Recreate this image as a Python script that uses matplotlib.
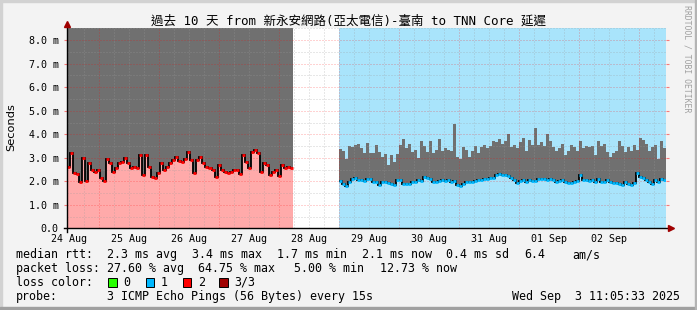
import numpy as np
import matplotlib
matplotlib.use("Agg")
import matplotlib.pyplot as plt
from matplotlib.patches import Rectangle

# x axis is in days, day 0 = "24 Aug" label position
day_labels = ["24 Aug", "25 Aug", "26 Aug", "27 Aug", "28 Aug",
              "29 Aug", "30 Aug", "31 Aug", "01 Sep", "02 Sep"]
y_ticks = [0, 1, 2, 3, 4, 5, 6, 7, 8]
y_labels = ["0.0", "1.0 m", "2.0 m", "3.0 m", "4.0 m", "5.0 m", "6.0 m", "7.0 m", "8.0 m"]

T_START, GAP_START, GAP_END, T_END = -0.028, 3.735, 4.505, 9.955
Y_MAX = 8.52

# first period (loss 2/3): median rtt in ms
left_median = [2.62, 3.20, 2.34, 2.30, 1.98, 2.98, 2.03, 2.79, 2.48, 2.41,
               2.48, 2.13, 2.00, 2.94, 2.79, 2.41, 2.55, 2.77, 2.83, 2.98,
               2.77, 2.58, 2.60, 2.55, 3.12, 2.27, 3.10, 2.60, 2.20, 2.13,
               2.34, 2.77, 2.48, 2.62, 2.77, 2.91, 3.05, 2.88, 2.83, 2.94,
               3.26, 2.91, 2.34, 2.91, 3.05, 2.77, 2.62, 2.55, 2.48, 2.20,
               2.69, 2.48, 2.38, 2.34, 2.41, 2.48, 2.48, 2.30, 3.12, 2.83,
               2.55, 3.26, 3.33, 3.19, 2.41, 2.79, 2.69, 2.27, 2.41, 2.48,
               2.23, 2.69, 2.55, 2.62, 2.55]

# second period (loss 1/3): median and top of smoke in ms
right_median = [2.02, 1.90, 1.82, 1.96, 2.08, 2.12, 2.04, 2.05, 2.02, 2.08,
                2.10, 1.98, 1.96, 1.86, 1.98, 1.96, 1.92, 1.90, 1.84, 2.04,
                2.06, 1.90, 1.88, 1.90, 1.96, 1.98, 2.06, 2.02, 2.20, 2.12,
                2.10, 1.98, 1.96, 2.02, 2.04, 2.00, 2.04, 1.98, 2.00, 1.84,
                1.80, 1.90, 1.96, 1.98, 1.96, 2.00, 2.04, 2.06, 2.10, 2.08,
                2.12, 2.12, 2.26, 2.30, 2.26, 2.28, 2.22, 2.14, 2.04, 1.92,
                2.02, 2.04, 1.96, 2.06, 2.00, 2.02, 2.10, 2.08, 2.08, 2.06,
                2.08, 2.04, 1.98, 2.02, 2.06, 1.98, 1.94, 1.92, 1.98, 2.00,
                2.26, 2.06, 2.04, 2.00, 2.04, 1.96, 2.08, 1.98, 1.96, 2.06,
                1.98, 1.92, 1.94, 1.90, 1.86, 1.96, 1.88, 1.84, 1.94, 2.34,
                2.20, 2.16, 2.04, 1.96, 1.90, 2.06, 1.98, 2.08, 2.04]
right_top = [3.36, 3.30, 2.95, 3.50, 3.47, 3.55, 3.60, 3.40, 3.19, 3.62,
             3.20, 3.20, 3.55, 3.25, 3.05, 3.15, 2.70, 3.10, 2.80, 3.15,
             3.55, 3.80, 3.40, 3.60, 3.25, 3.35, 3.00, 3.70, 3.50, 3.25,
             3.70, 3.20, 3.35, 3.80, 3.30, 3.40, 3.35, 3.30, 4.45, 3.05,
             2.95, 3.45, 3.35, 3.05, 3.30, 3.50, 3.20, 3.45, 3.55, 3.40,
             3.50, 3.70, 3.65, 3.80, 3.60, 3.70, 4.00, 3.45, 3.55, 3.40,
             3.65, 3.85, 3.30, 3.75, 3.55, 4.25, 3.55, 3.65, 3.50, 4.00,
             3.70, 3.45, 3.30, 3.40, 3.60, 3.10, 3.30, 3.55, 3.45, 3.30,
             3.70, 3.40, 3.50, 3.45, 3.50, 3.10, 3.70, 3.50, 3.60, 3.25,
             3.05, 3.20, 3.30, 3.70, 3.50, 3.25, 3.45, 3.30, 3.55, 3.35,
             3.85, 3.75, 3.60, 3.30, 3.45, 3.55, 2.95, 3.70, 3.40]

loss_colors = ["#26ff00", "#00b8ff", "#ff0000", "#a00000"]
loss_names = ["0", "1", "2", "3/3"]

W, H = 697, 310
BG = "#f3f3f3"
SMOKE = "#707070"
PINK = "#ffaaaa"
LBLUE = "#a9e4fb"
MONO = "DejaVu Sans Mono"


def fx(px):
    return px / W


def fy(py):
    return 1 - py / H


fig = plt.figure(figsize=(W / 100, H / 100), dpi=100, facecolor=BG)
ax = fig.add_axes([fx(67), fy(228.3), (666 - 67) / W, (228.3 - 28) / H])
ax.set_facecolor("white")
ax.set_xlim(T_START, T_END)
ax.set_ylim(0, Y_MAX)
for s in ax.spines.values():
    s.set_visible(False)

# first period: pink below the median, smoke above
left_edges = np.linspace(T_START, GAP_START, len(left_median) + 1)
ax.axvspan(T_START, GAP_START, color=SMOKE, lw=0, zorder=0.5)
ax.stairs(left_median, left_edges, baseline=0, fill=True, color=PINK, lw=0, zorder=0.6)

# second period: light blue background, smoke between median and top
right_edges = np.linspace(GAP_END, T_END, len(right_median) + 1)
ax.axvspan(GAP_END, T_END, color=LBLUE, lw=0, zorder=0.5)
ax.stairs(right_top, right_edges, baseline=right_median, fill=True, color=SMOKE,
          lw=0, zorder=0.6)

# grid on top of the areas
minor_c = (0.61, 0.61, 0.61, 0.48)
major_c = (1.0, 0.0, 0.0, 0.35)
dots = (0, (1, 2))
for y in np.arange(0.5, Y_MAX, 1.0):
    ax.axhline(y, color=minor_c, lw=0.72, ls=dots, zorder=2)
for y in y_ticks[1:]:
    ax.axhline(y, color=major_c, lw=0.72, ls=dots, zorder=2)
for d in np.arange(0.25, T_END, 0.25):
    if abs((d - 0.5) % 1.0) > 1e-6:
        ax.axvline(d, color=minor_c, lw=0.72, ls=dots, zorder=2)
for d in np.arange(0.5, T_END, 1.0):
    ax.axvline(d, color=major_c, lw=0.72, ls=dots, zorder=2)

# median lines, colored by loss
ax.stairs(left_median, left_edges, baseline=None, color="black", lw=1.3, zorder=3)
ax.hlines(left_median, left_edges[:-1], left_edges[1:], color=loss_colors[2], lw=2, zorder=4)
ax.stairs(right_median, right_edges, baseline=None, color="black", lw=1.3, zorder=3)
ax.hlines(right_median, right_edges[:-1], right_edges[1:], color=loss_colors[1], lw=2, zorder=4)

ax.set_yticks(y_ticks)
ax.set_yticklabels(y_labels, family=MONO, fontsize=7.2)
ax.set_xticks(range(len(day_labels)))
ax.set_xticklabels(day_labels, family=MONO, fontsize=7.2)
ax.tick_params(axis="y", length=2, width=0.8, color=(1, 0, 0, 0.5), pad=4.0,
               left=True, right=True)
ax.tick_params(axis="x", length=0, pad=4.0)

# axes with arrows
ax.plot([fx(67), fx(67)], [fy(232), fy(25)], transform=fig.transFigure,
        color="black", lw=1, clip_on=False, zorder=5)
ax.plot([fx(64), fx(669)], [fy(228.3), fy(228.3)], transform=fig.transFigure,
        color="black", lw=1, clip_on=False, zorder=5)
ax.plot([fx(67)], [fy(23.5)], transform=fig.transFigure, marker="^", ms=4.5,
        color="#a00000", clip_on=False, zorder=6)
ax.plot([fx(670.5)], [fy(228.3)], transform=fig.transFigure, marker=">", ms=4.5,
        color="#a00000", clip_on=False, zorder=6)

# texts
fig.text(fx(348.5), fy(21), "過去 10 天 from 新永安網路(亞太電信)-臺南 to TNN Core 延遲",
         ha="center", va="center", fontsize=9, family=[MONO, "Noto Sans CJK TC"])
fig.text(fx(11), fy(127), "Seconds", rotation=90, ha="center", va="center",
         fontsize=8.2, family="DejaVu Sans")
fig.text(fx(687), fy(59), "RRDTOOL / TOBI OETIKER", rotation=270, ha="center",
         va="center", fontsize=5.9, color="#a0a0a0", family=MONO)

LEG = 8.35
rows = [
    (254.7, [(16, "median rtt:"), (107, "2.3 ms avg"), (192, "3.4 ms max"),
             (277, "1.7 ms min"), (362, "2.1 ms now"), (446, "0.4 ms sd"),
             (524, "6.4"), (572, "am/s")]),
    (268.3, [(16, "packet loss:"), (107, "27.60 % avg"), (198, "64.75 % max"),
             (294, "5.00 % min"), (380, "12.73 % now")]),
    (282.3, [(16, "loss color:")]),
    (296.3, [(16, "probe:"), (107, "3 ICMP Echo Pings (56 Bytes) every 15s")]),
]
for y, items in rows:
    for x, s in items:
        fig.text(fx(x), fy(y), s, ha="left", va="center", fontsize=LEG, family=MONO)
fig.text(fx(680), fy(296.3), "Wed Sep  3 11:05:33 2025", ha="right", va="center",
         fontsize=LEG, family=MONO)

sq_x = [108.3, 145.7, 182.7, 219.3]
for x, c, name in zip(sq_x, loss_colors, loss_names):
    fig.patches.append(Rectangle((fx(x), fy(286.5)), 8.5 / W, 8.5 / H, facecolor=c,
                                 edgecolor="black", lw=0.7, transform=fig.transFigure))
    fig.text(fx(x + 15), fy(282.3), name, ha="left", va="center", fontsize=LEG, family=MONO)

# 3d-ish frame
fig.patches.append(Rectangle((0, fy(2)), 1, 2 / H, color="#d2d2d2", transform=fig.transFigure))
fig.patches.append(Rectangle((0, 0), 2 / W, 1, color="#d2d2d2", transform=fig.transFigure))
fig.patches.append(Rectangle((0, 0), 1, 3 / H, color="#a0a0a0", transform=fig.transFigure))
fig.patches.append(Rectangle((fx(695), 0), 2 / W, 1, color="#b4b4b4", transform=fig.transFigure))

fig.savefig("out.png", dpi=100, facecolor=BG)
